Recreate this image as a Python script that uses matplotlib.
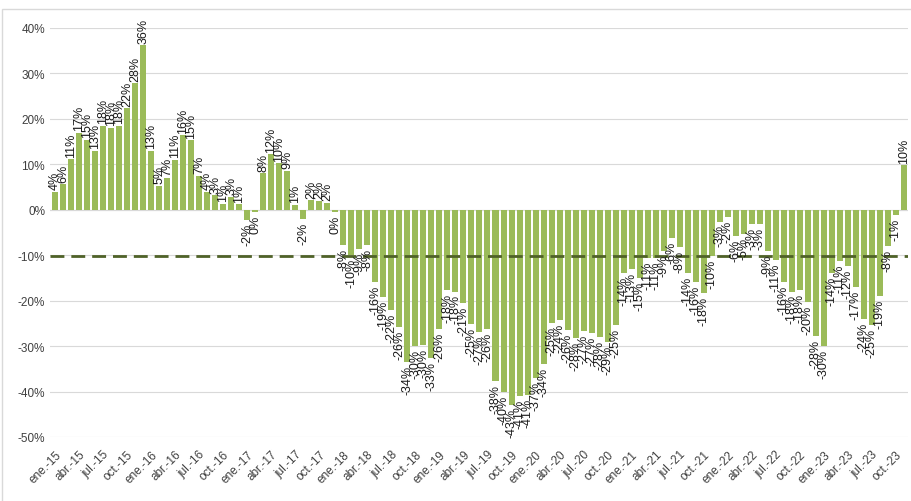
import numpy as np
import matplotlib
matplotlib.use("Agg")
from matplotlib import pyplot as plt
from matplotlib.patches import Rectangle

plt.rcParams['font.family'] = ['Liberation Sans', 'DejaVu Sans']

# monthly variation, ene-15 .. nov-23 (%)
v2015 = [4.0, 5.6, 11.1, 17.0, 15.4, 12.9, 18.4, 18.1, 18.5, 22.3, 27.8, 36.2]
v2016 = [12.9, 5.3, 7.1, 11.0, 16.4, 15.3, 7.4, 4.0, 3.2, 1.3, 2.8, 1.2]
v2017 = [-2.2, -0.4, 8.0, 12.2, 10.2, 8.6, 1.1, -2.0, 2.1, 2.0, 1.6, -0.4]
v2018 = [-7.8, -10.0, -8.6, -7.7, -16.0, -19.3, -22.0, -25.7, -33.6, -30.0, -29.7, -32.6]
v2019 = [-26.2, -17.6, -18.0, -20.6, -25.2, -27.0, -26.3, -37.7, -40.2, -43.0, -41.0, -40.8]
v2020 = [-37.0, -34.0, -25.0, -24.2, -26.4, -28.2, -26.7, -27.2, -28.0, -29.0, -25.4, -14.0]
v2021 = [-13.1, -15.0, -10.6, -10.6, -9.1, -6.2, -8.2, -13.9, -16.0, -18.3, -10.2, -2.6]
v2022 = [-1.6, -5.8, -5.3, -3.1, -3.1, -9.0, -11.0, -16.0, -18.0, -17.6, -20.2, -27.8]
v2023 = [-30.0, -14.0, -11.2, -12.4, -17.0, -24.0, -25.3, -19.0, -8.0, -1.2, 9.8]
values = v2015 + v2016 + v2017 + v2018 + v2019 + v2020 + v2021 + v2022 + v2023

months = ['ene.', 'abr.', 'jul.', 'oct.']
years = ['15', '16', '17', '18', '19', '20', '21', '22', '23']
tick_labels = [m + '-' + y for y in years for m in months]

avg_line = -10.1

fig = plt.figure(figsize=(9.11, 5.02), dpi=100)
ax = fig.add_axes([50 / 911, 1 - 438 / 502, 858 / 911, 409 / 502])

x = np.arange(len(values))
ax.bar(x, values, width=0.75, color='#9BBB59', zorder=2)
ax.axhline(avg_line, color='#4F6228', lw=2, dashes=(5, 2.5), zorder=3)
ax.axhline(0, color='#D9D9D9', lw=0.8, zorder=1)

for xi, v in zip(x, values):
    txt = '%d%%' % round(v)
    if v >= 0:
        ax.text(xi, v + 0.6, txt, rotation=90, ha='center', va='bottom',
                fontsize=9, color='#1a1a1a', clip_on=False, zorder=4)
    else:
        ax.text(xi, v - 0.6, txt, rotation=90, ha='center', va='top',
                fontsize=9, color='#1a1a1a', clip_on=False, zorder=4)

ax.set_ylim(-50, 40)
ax.set_xlim(-0.62, 106.5)
ax.set_yticks(np.arange(-50, 41, 10))
ax.set_yticklabels(['%d%%' % t for t in np.arange(-50, 41, 10)], fontsize=8.5, color='#404040')
ax.yaxis.grid(True, color='#D9D9D9', lw=0.8, zorder=0)
ax.set_axisbelow(True)
ax.set_xticks(np.arange(0, len(values), 3))
ax.set_xticklabels(tick_labels, rotation=45, ha='right', rotation_mode='anchor',
                   fontsize=8.5, color='#404040')
ax.tick_params(axis='both', length=0)
ax.tick_params(axis='x', pad=8)
for s in ax.spines.values():
    s.set_visible(False)

fig.patches.append(Rectangle((0.002, -0.1), 1.2, 1.1 - 10 / 502, transform=fig.transFigure,
                             fill=False, edgecolor='#D9D9D9', lw=1))

fig.savefig('out.png', dpi=100)
